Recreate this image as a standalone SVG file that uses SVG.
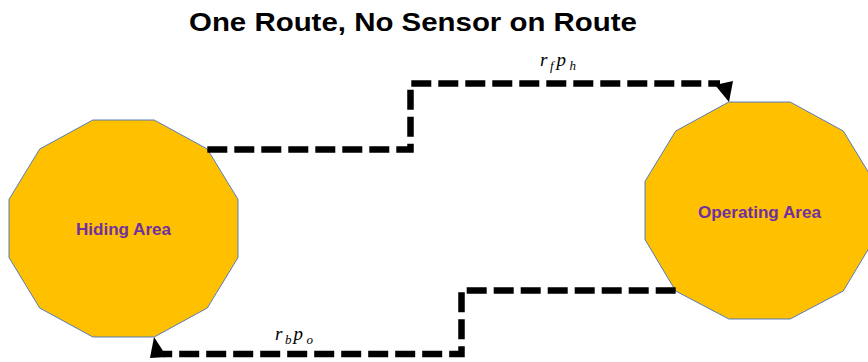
<svg xmlns="http://www.w3.org/2000/svg" width="868" height="362" viewBox="0 0 868 362">
<style>
.area{fill:#FFC000;stroke:#4472C4;stroke-width:0.9}
.lbl{font-family:"Liberation Sans",Arial,sans-serif;font-weight:bold;fill:#7030A0;font-size:16.5px;text-anchor:middle}
.route{fill:none;stroke:#000;stroke-width:6.5;stroke-dasharray:20 7}
.math{font-family:"Liberation Serif","Times New Roman",serif;font-style:italic;fill:#000}
.title{font-family:"Liberation Sans",Arial,sans-serif;font-weight:bold;font-size:26px;fill:#000}
</style>
<rect width="868" height="362" fill="#fff"/>
<text class="title" x="189" y="31" textLength="448" lengthAdjust="spacingAndGlyphs">One Route, No Sensor on Route</text>
<g id="hiding-area">
<polygon class="area" points="238,199.4 238,257.6 207.3,308 154.2,337 92.8,337 39.7,308 9,257.6 9,199.4 39.7,149 92.8,120 154.2,120 207.3,149"/>
<text class="lbl" x="123.5" y="235.3" textLength="95" lengthAdjust="spacingAndGlyphs">Hiding Area</text>
</g>
<g id="operating-area">
<polygon class="area" points="874,181.4 874,239.6 843.3,291 790.2,319 728.8,319 675.7,291 645,239.6 645,181.4 675.7,131 728.8,102 790.2,102 843.3,131"/>
<text class="lbl" x="759.5" y="217.7" textLength="123" lengthAdjust="spacingAndGlyphs">Operating Area</text>
</g>
<g id="connectors">
<path class="route" d="M207.3,149.5 H410.5 V83.5 H720"/>
<polygon points="729,102 715,85 733,81" fill="#000"/>
<path class="route" d="M675.7,290.5 H461.5 V354 H163"/>
<polygon points="154,337 150,358 167,357" fill="#000"/>
</g>
<g id="labels">
<text class="math" font-size="19"><tspan x="540" y="65.5">r</tspan><tspan x="550" y="69.5" font-size="13">f</tspan><tspan x="556.5" y="65.5">p</tspan><tspan x="569.5" y="69.5" font-size="13">h</tspan></text>
<text class="math" font-size="19"><tspan x="275" y="340">r</tspan><tspan x="285" y="343.5" font-size="13">b</tspan><tspan x="293.5" y="340">p</tspan><tspan x="306.5" y="343.5" font-size="13">o</tspan></text>
</g>
</svg>
